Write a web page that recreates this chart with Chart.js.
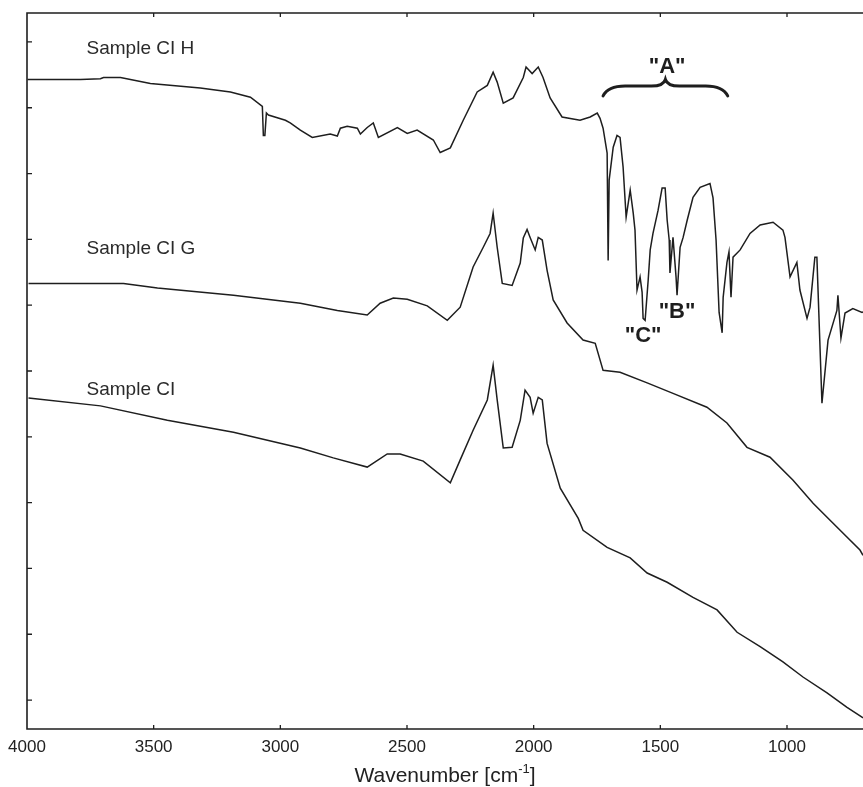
<!DOCTYPE html>
<html>
<head>
<meta charset="utf-8">
<script src="https://cdn.jsdelivr.net/npm/chart.js@4.4.1/dist/chart.umd.min.js"></script>
<style>
  html, body { margin: 0; padding: 0; background: #fff; }
  canvas { display: block; }
</style>
</head>
<body>
<canvas id="ftir" width="863" height="787"></canvas>
<script>
// axis ticks
const xTicks = [4000, 3500, 3000, 2500, 2000, 1500, 1000];
const yTicks = [0, 1, 2, 3, 4, 5, 6, 7, 8, 9, 10];
const seriesNames = ['Sample CI H', 'Sample CI G', 'Sample CI'];

// Sample CI H (wavenumber cm-1, intensity a.u.)
const wnH = [3998, 3907, 3789, 3710, 3698, 3631, 3513, 3316, 3197, 3118, 3071, 3067, 3061, 3055, 3047,
  2980, 2961, 2921, 2874, 2803, 2775, 2763, 2736, 2696, 2684, 2657, 2633, 2613, 2538, 2499, 2460,
  2396, 2369, 2329, 2278, 2223, 2183, 2160, 2144, 2120, 2081, 2041, 2030, 2006, 1982, 1963, 1935,
  1888, 1817, 1777, 1749, 1738, 1726, 1710, 1706, 1702, 1686, 1671, 1659, 1647, 1635, 1619, 1607,
  1600, 1592, 1580, 1572, 1568, 1560, 1548, 1540, 1529, 1509, 1493, 1481, 1473, 1465, 1462, 1450,
  1438, 1434, 1422, 1410, 1394, 1371, 1343, 1304, 1292, 1280, 1268, 1256, 1252, 1237, 1229, 1221,
  1213, 1185, 1146, 1106, 1055, 1016, 1008, 988, 961, 949, 921, 909, 890, 882, 862, 838, 803, 799,
  787, 771, 740, 704, 700];
const absH = [9.43, 9.43, 9.43, 9.44, 9.46, 9.46, 9.37, 9.30, 9.24, 9.16, 9.02, 8.58, 8.58, 8.92, 8.89,
  8.81, 8.77, 8.66, 8.55, 8.60, 8.57, 8.69, 8.72, 8.69, 8.60, 8.70, 8.77, 8.55, 8.70, 8.61, 8.66,
  8.51, 8.32, 8.39, 8.81, 9.24, 9.34, 9.54, 9.39, 9.07, 9.15, 9.46, 9.62, 9.52, 9.62, 9.46, 9.15,
  8.86, 8.81, 8.86, 8.92, 8.84, 8.69, 8.31, 6.68, 7.90, 8.40, 8.58, 8.55, 8.10, 7.34, 7.75, 7.40,
  7.14, 6.23, 6.43, 6.20, 5.80, 5.77, 6.38, 6.84, 7.09, 7.44, 7.78, 7.78, 7.29, 6.99, 6.49, 7.03,
  6.43, 6.15, 6.88, 7.03, 7.29, 7.64, 7.79, 7.85, 7.63, 6.99, 5.89, 5.58, 6.12, 6.65, 6.81, 6.12,
  6.73, 6.84, 7.09, 7.22, 7.26, 7.14, 7.03, 6.43, 6.65, 6.23, 5.80, 5.97, 6.73, 6.73, 4.51, 5.47, 5.92, 6.15,
  5.50, 5.88, 5.95, 5.89, 5.90];

// Sample CI G
const wnG = [3994, 3619, 3485, 3185, 2921, 2775, 2657, 2606, 2554, 2499, 2420, 2341, 2290, 2239, 2199,
  2172, 2160, 2144, 2124, 2085, 2053, 2041, 2026, 2014, 1994, 1982, 1966, 1947, 1923, 1868, 1805,
  1757, 1726, 1659, 1552, 1450, 1316, 1237, 1158, 1067, 976, 897, 819, 712, 700];
const absG = [6.33, 6.33, 6.26, 6.15, 6.03, 5.92, 5.85, 6.03, 6.11, 6.09, 5.99, 5.77, 5.97, 6.58, 6.88,
  7.09, 7.40, 6.88, 6.33, 6.30, 6.64, 7.02, 7.15, 7.03, 6.84, 7.03, 6.99, 6.53, 6.08, 5.73, 5.47,
  5.42, 5.01, 4.98, 4.82, 4.66, 4.45, 4.21, 3.84, 3.69, 3.34, 2.99, 2.69, 2.28, 2.20];

// Sample CI
const wnC = [3994, 3710, 3446, 3185, 2921, 2791, 2657, 2578, 2527, 2436, 2329, 2290, 2239, 2183, 2160,
  2144, 2120, 2085, 2053, 2034, 2014, 2002, 1982, 1966, 1947, 1895, 1824, 1805, 1710, 1619, 1552,
  1473, 1371, 1276, 1197, 1106, 1016, 937, 842, 763, 704, 700];
const absC = [4.59, 4.47, 4.25, 4.07, 3.83, 3.68, 3.54, 3.74, 3.74, 3.63, 3.30, 3.65, 4.10, 4.56, 5.09,
  4.56, 3.83, 3.84, 4.25, 4.71, 4.60, 4.36, 4.60, 4.56, 3.90, 3.22, 2.76, 2.58, 2.32, 2.16, 1.93,
  1.79, 1.56, 1.37, 1.03, 0.81, 0.58, 0.35, 0.11, -0.11, -0.26, -0.27];

const ink = '#1e1e1e';
const zip = (xs, ys) => xs.map((x, i) => ({ x: x, y: ys[i] }));

// frame, inward tick marks, labels and the brace
const decorations = {
  id: 'decorations',
  afterDraw(chart) {
    const ctx = chart.ctx;
    const a = chart.chartArea;
    const x = chart.scales.x;
    const y = chart.scales.y;
    ctx.save();
    ctx.strokeStyle = ink;
    ctx.lineWidth = 1.6;
    ctx.beginPath();
    ctx.moveTo(a.right, a.top);
    ctx.lineTo(a.left, a.top);
    ctx.lineTo(a.left, a.bottom);
    ctx.lineTo(a.right, a.bottom);
    ctx.stroke();

    ctx.lineWidth = 1.3;
    ctx.beginPath();
    x.ticks.forEach(t => {
      const px = x.getPixelForValue(t.value);
      if (px <= a.left + 1) return;
      ctx.moveTo(px, a.bottom); ctx.lineTo(px, a.bottom - 4);
      ctx.moveTo(px, a.top); ctx.lineTo(px, a.top + 4);
    });
    y.ticks.forEach(t => {
      const py = y.getPixelForValue(t.value);
      ctx.moveTo(a.left, py); ctx.lineTo(a.left + 5, py);
    });
    ctx.stroke();

    // sample names
    ctx.fillStyle = '#2a2a2a';
    ctx.font = '19px "Liberation Sans", Arial, sans-serif';
    ctx.textAlign = 'left';
    ctx.textBaseline = 'middle';
    const names = [[3765, 9.90], [3765, 6.85], [3765, 4.72]];
    names.forEach((n, i) => ctx.fillText(seriesNames[i], x.getPixelForValue(n[0]), y.getPixelForValue(n[1])));

    // band labels
    ctx.fillStyle = ink;
    ctx.font = 'bold 22px "Liberation Sans", Arial, sans-serif';
    ctx.textAlign = 'center';
    [['"A"', 1473, 9.62], ['"B"', 1434, 5.89], ['"C"', 1568, 5.53]].forEach(l => {
      ctx.fillText(l[0], x.getPixelForValue(l[1]), y.getPixelForValue(l[2]));
    });

    // curly brace over region A
    const x0 = x.getPixelForValue(1726), x1 = x.getPixelForValue(1234), xm = x.getPixelForValue(1480);
    const yE = y.getPixelForValue(9.18), yA = y.getPixelForValue(9.33), yT = y.getPixelForValue(9.43);
    ctx.lineWidth = 3;
    ctx.lineCap = 'round';
    ctx.beginPath();
    ctx.moveTo(x0, yE);
    ctx.quadraticCurveTo(x0 + 5, yA, x0 + 22, yA);
    ctx.lineTo(xm - 14, yA);
    ctx.quadraticCurveTo(xm - 2, yA, xm, yT);
    ctx.quadraticCurveTo(xm + 2, yA, xm + 14, yA);
    ctx.lineTo(x1 - 22, yA);
    ctx.quadraticCurveTo(x1 - 5, yA, x1, yE);
    ctx.stroke();

    // axis title with superscript
    ctx.fillStyle = '#222';
    ctx.textAlign = 'left';
    ctx.textBaseline = 'alphabetic';
    const big = '21px "Liberation Sans", Arial, sans-serif';
    const small = '13px "Liberation Sans", Arial, sans-serif';
    ctx.font = big;
    const w1 = ctx.measureText('Wavenumber [cm').width;
    const w3 = ctx.measureText(']').width;
    ctx.font = small;
    const w2 = ctx.measureText('-1').width;
    let sx = (a.left + a.right) / 2 - (w1 + w2 + w3) / 2;
    const base = 782;
    ctx.font = big;
    ctx.fillText('Wavenumber [cm', sx, base);
    ctx.font = small;
    ctx.fillText('-1', sx + w1, base - 9);
    ctx.font = big;
    ctx.fillText(']', sx + w1 + w2, base);
    ctx.restore();
  }
};

const lineStyle = { borderColor: ink, borderWidth: 1.5, pointRadius: 0, tension: 0, fill: false };

new Chart(document.getElementById('ftir'), {
  type: 'line',
  data: {
    datasets: [
      Object.assign({ label: seriesNames[0], data: zip(wnH, absH) }, lineStyle),
      Object.assign({ label: seriesNames[1], data: zip(wnG, absG) }, lineStyle),
      Object.assign({ label: seriesNames[2], data: zip(wnC, absC) }, lineStyle)
    ]
  },
  options: {
    responsive: false,
    animation: false,
    layout: { padding: { left: 27, top: 13, right: 0, bottom: 0 } },
    plugins: { legend: { display: false }, tooltip: { enabled: false } },
    scales: {
      x: {
        type: 'linear',
        reverse: true,
        min: 700,
        max: 4000,
        afterBuildTicks: s => { s.ticks = xTicks.map(v => ({ value: v })); },
        afterFit: s => { s.height = 58; },
        grid: { display: false, drawTicks: false },
        border: { display: false },
        ticks: {
          padding: 8,
          maxRotation: 0,
          autoSkip: false,
          color: '#222',
          callback: v => String(v),
          font: { family: '"Liberation Sans", Arial, sans-serif', size: 17 }
        }
      },
      y: {
        type: 'linear',
        min: -0.44,
        max: 10.44,
        afterBuildTicks: s => { s.ticks = yTicks.map(v => ({ value: v })); },
        afterFit: s => { s.width = 0; },
        grid: { display: false, drawTicks: false },
        border: { display: false },
        ticks: { display: false }
      }
    }
  },
  plugins: [decorations]
});
</script>
</body>
</html>
